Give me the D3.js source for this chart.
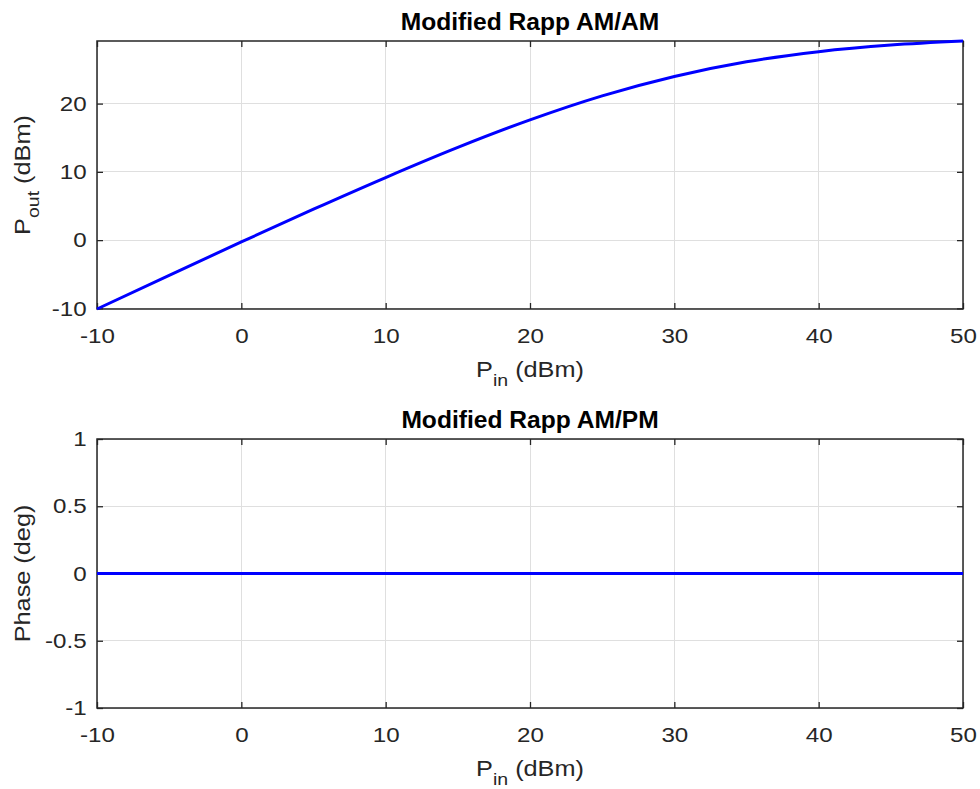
<!DOCTYPE html>
<html><head><meta charset="utf-8">
<script src="https://cdn.jsdelivr.net/npm/d3@7"></script>
<style>body{margin:0;background:#fff}svg{display:block}text{font-family:"Liberation Sans",Arial,Helvetica,sans-serif}</style>
</head><body><svg id="c" width="980" height="789"></svg>
<script>
// Data
const pinValues = [-10, -5, 0, 5, 10, 15, 20, 25, 30, 35, 40, 45, 50];
const poutValues = [-10.09, -5.15, -0.27, 4.53, 9.17, 13.58, 17.61, 21.13, 23.98, 26.13, 27.61, 28.58, 29.17];
const phaseValues = [0, 0, 0, 0, 0, 0, 0, 0, 0, 0, 0, 0, 0];
const xTicks = [-10, 0, 10, 20, 30, 40, 50];
const amTicks = [-10, 0, 10, 20];
const pmTicks = [-1, -0.5, 0, 0.5, 1];

const svg = d3.select("#c");
const L = 97, R = 963;
const axCol = "#262626", gridCol = "#dfdfdf";
const SX = 1.15;          // horizontal glyph stretch seen in the reference
const TICK_FS = 21, LAB_FS = 22, TITLE_FS = 23;

function panel(o) {
  const x = d3.scaleLinear().domain([-10, 50]).range([L, R]);
  const y = d3.scaleLinear().domain(o.yDomain).range([o.bottom, o.top]);
  const g = svg.append("g");
  // grid
  g.selectAll(".gx").data(xTicks).join("line")
    .attr("x1", d => x(d)).attr("x2", d => x(d)).attr("y1", o.top).attr("y2", o.bottom)
    .attr("stroke", gridCol).attr("stroke-width", 1).attr("shape-rendering", "crispEdges");
  g.selectAll(".gy").data(o.yTicks).join("line")
    .attr("y1", d => y(d)).attr("y2", d => y(d)).attr("x1", L).attr("x2", R)
    .attr("stroke", gridCol).attr("stroke-width", 1).attr("shape-rendering", "crispEdges");
  // axes
  const fmt = d => String(d);
  const ax = (gen, tr) => {
    const a = g.append("g").attr("transform", tr).call(gen);
    a.select(".domain").remove();
    a.selectAll("line").attr("stroke", axCol).attr("stroke-width", 1.3);
    a.selectAll("text").attr("fill", axCol).attr("font-size", TICK_FS + "px")
      .attr("transform", `scale(${SX},1)`);
    return a;
  };
  ax(d3.axisBottom(x).tickValues(xTicks).tickSize(-6).tickPadding(19).tickFormat(fmt), `translate(0,${o.bottom})`);
  ax(d3.axisTop(x).tickValues(xTicks).tickSize(-6).tickFormat(""), `translate(0,${o.top})`);
  ax(d3.axisLeft(y).tickValues(o.yTicks).tickSize(-6).tickPadding(9).tickFormat(fmt), `translate(${L},0)`);
  ax(d3.axisRight(y).tickValues(o.yTicks).tickSize(-6).tickFormat(""), `translate(${R},0)`);
  g.append("rect").attr("x", L).attr("y", o.top).attr("width", R - L).attr("height", o.bottom - o.top)
    .attr("fill", "none").attr("stroke", axCol).attr("stroke-width", 1.5);
  // line
  const pts = pinValues.map((p, i) => [p, o.vals[i]]);
  g.append("path").datum(pts)
    .attr("d", d3.line().x(d => x(d[0])).y(d => y(d[1])).curve(d3.curveMonotoneX))
    .attr("fill", "none").attr("stroke", "#0000ff").attr("stroke-width", 3);
  // title
  g.append("g").attr("transform", `translate(${(L + R) / 2},${o.top - 11}) scale(1.07,1)`)
    .append("text").attr("text-anchor", "middle")
    .attr("font-size", TITLE_FS + "px").attr("font-weight", "bold").attr("fill", "#000").text(o.title);
  // xlabel
  const xl = g.append("g").attr("transform", `translate(${(L + R) / 2},${o.bottom + 68}) scale(${SX},1)`)
    .append("text").attr("text-anchor", "middle").attr("font-size", LAB_FS + "px").attr("fill", axCol);
  xl.append("tspan").text("P");
  xl.append("tspan").attr("dy", 9).attr("font-size", "17px").text("in");
  xl.append("tspan").attr("dy", -9).text(" (dBm)");
  // ylabel
  const yl = g.append("g").attr("transform", `translate(30,${(o.top + o.bottom) / 2}) rotate(-90) scale(${SX},1)`)
    .append("text").attr("text-anchor", "middle").attr("font-size", LAB_FS + "px").attr("fill", axCol);
  if (o.ysub) {
    yl.append("tspan").text("P");
    yl.append("tspan").attr("dy", 9).attr("font-size", "17px").text(o.ysub);
    yl.append("tspan").attr("dy", -9).text(" (dBm)");
  } else yl.text(o.ylabel);
}

panel({top: 41, bottom: 309, yDomain: [-10.09, 29.17], yTicks: amTicks, vals: poutValues,
       title: "Modified Rapp AM/AM", ysub: "out"});
panel({top: 439, bottom: 708, yDomain: [-1, 1], yTicks: pmTicks, vals: phaseValues,
       title: "Modified Rapp AM/PM", ylabel: "Phase (deg)"});
</script></body></html>
